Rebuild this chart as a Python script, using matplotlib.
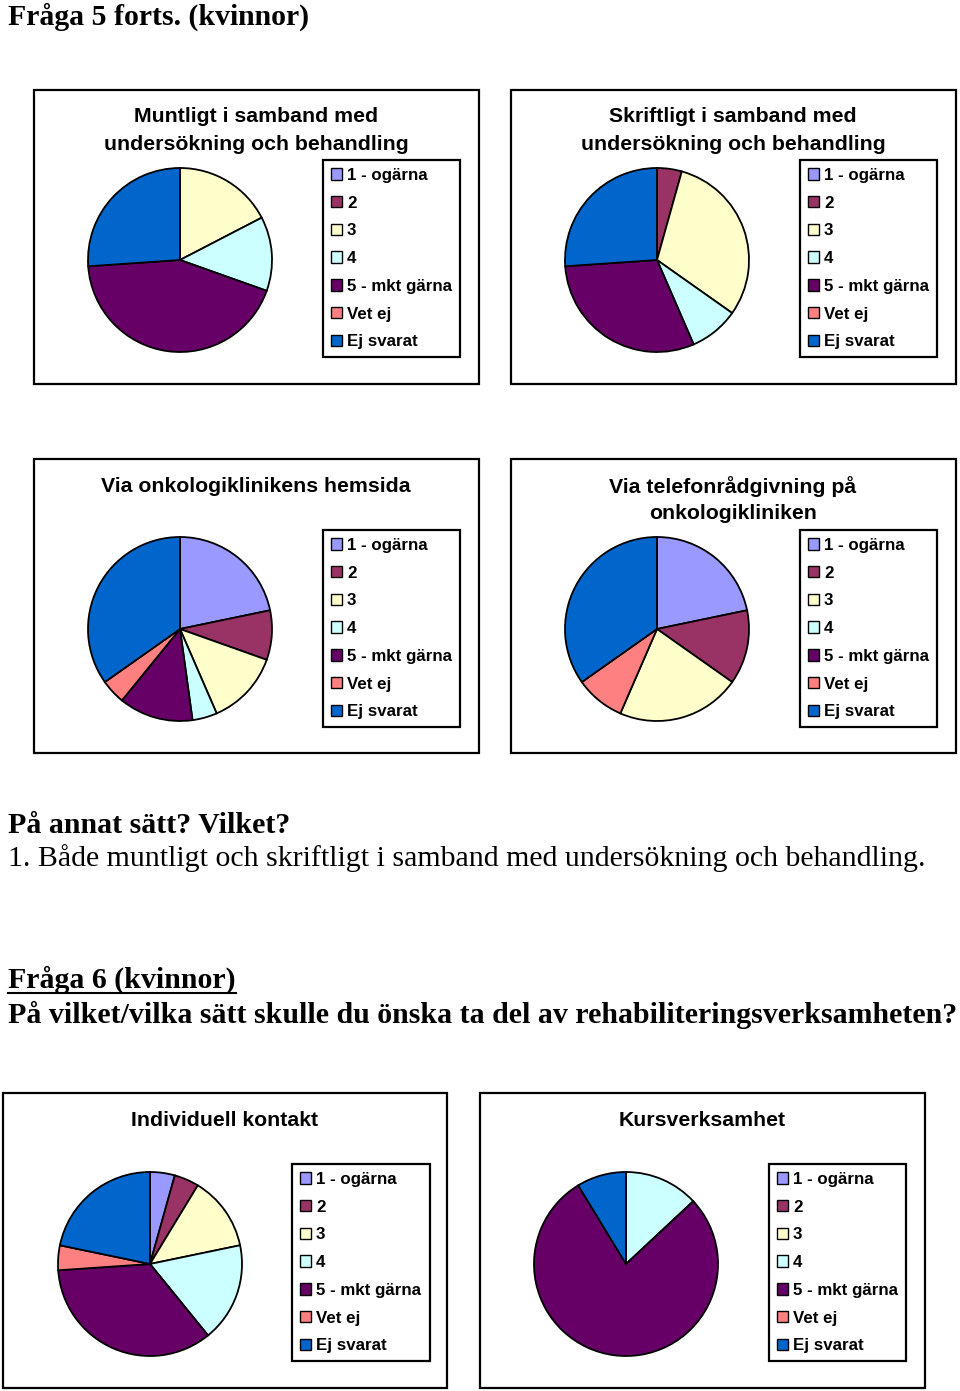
import matplotlib
matplotlib.use("Agg")
import matplotlib.pyplot as plt
from matplotlib.patches import Rectangle, Patch
from matplotlib.lines import Line2D

W, H = 960, 1391

categories = ["1 - ogärna", "2", "3", "4", "5 - mkt gärna", "Vet ej", "Ej svarat"]
colors = ["#9999FF", "#993366", "#FFFFCC", "#CCFFFF", "#660066", "#FF8080", "#0066CC"]

# antal svar per kategori (23 kvinnor)
muntligt = [0, 0, 4, 3, 10, 0, 6]
skriftligt = [0, 1, 7, 2, 7, 0, 6]
hemsida = [5, 2, 3, 1, 3, 1, 8]
telefon = [5, 3, 5, 0, 0, 2, 8]
individuell = [1, 1, 3, 4, 8, 1, 5]
kurs = [0, 0, 0, 3, 18, 0, 2]

serif = "Liberation Serif"
sans = "Liberation Sans"

fig = plt.figure(figsize=(W / 100, H / 100), dpi=100)


def fx(x):
    return x / W


def fy(y):
    return 1 - y / H


# title lines, data, frame (x0, y0, x1, y1), pie centre, title centre x, title y's, legend box
panels = [
    (["Muntligt i samband med", "undersökning och behandling"], muntligt,
     (34, 90, 479, 384), (180, 260), 256, [117, 145], (323, 160, 137)),
    (["Skriftligt i samband med", "undersökning och behandling"], skriftligt,
     (511, 90, 956, 384), (657, 260), 733, [117, 145], (800, 160, 137)),
    (["Via onkologiklinikens hemsida"], hemsida,
     (34, 459, 479, 753), (180, 629), 256, [487], (323, 530, 137)),
    (["Via telefonrådgivning på", "onkologikliniken"], telefon,
     (511, 459, 956, 753), (657, 629), 733, [487, 514], (800, 530, 137)),
    (["Individuell kontakt"], individuell,
     (3, 1093, 447, 1388), (150, 1264), 225, [1120], (292, 1164, 138)),
    (["Kursverksamhet"], kurs,
     (480, 1093, 925, 1388), (626, 1264), 702, [1120], (769, 1164, 137)),
]

r = 92
handles = [Patch(facecolor=c, edgecolor="black", linewidth=1.0) for c in colors]

for title, vals, frame, centre, tx, tys, leg in panels:
    x0, y0, x1, y1 = frame
    fig.add_artist(Rectangle((fx(x0), fy(y1)), (x1 - x0) / W, (y1 - y0) / H,
                             transform=fig.transFigure, fill=False,
                             edgecolor="black", linewidth=1.6))
    for line, ty in zip(title, tys):
        fig.text(fx(tx), fy(ty), line, ha="center", va="center",
                 fontsize=15.3, fontweight="bold", family=sans)

    cx, cy = centre
    ax = fig.add_axes([fx(cx - r), fy(cy + r), 2 * r / W, 2 * r / H])
    v = [a for a in vals if a > 0]
    c = [col for a, col in zip(vals, colors) if a > 0]
    ax.pie(v, colors=c, startangle=90, counterclock=False, radius=1,
           wedgeprops=dict(edgecolor="black", linewidth=1.3))
    ax.set_xlim(-1, 1)
    ax.set_ylim(-1, 1)
    ax.axis("off")

    lx, ly, lw = leg
    lg = fig.legend(handles, categories, loc="upper left",
                    bbox_to_anchor=(fx(lx), fy(ly + 193), lw / W, 193 / H),
                    mode="expand", borderaxespad=0, frameon=True, fancybox=False,
                    edgecolor="black", framealpha=1, borderpad=0.47,
                    labelspacing=0.75, handlelength=0.65, handleheight=0.65,
                    handletextpad=0.3, prop=dict(family=sans, weight="bold", size=12.2))
    lg.get_frame().set_linewidth(1.6)

fig.text(fx(8), fy(25), "Fråga 5 forts. (kvinnor)", fontsize=21.4, fontweight="bold",
         family=serif, va="baseline")
fig.text(fx(8), fy(833), "På annat sätt? Vilket?", fontsize=21.5, fontweight="bold",
         family=serif, va="baseline")
fig.text(fx(8), fy(866), "1. Både muntligt och skriftligt i samband med undersökning och behandling.",
         fontsize=21.5, family=serif, va="baseline")
q6 = fig.text(fx(8), fy(988), "Fråga 6 (kvinnor)", fontsize=21.5, fontweight="bold",
              family=serif, va="baseline")
fig.text(fx(8), fy(1023), "På vilket/vilka sätt skulle du önska ta del av rehabiliteringsverksamheten?",
         fontsize=21.5, fontweight="bold", family=serif, va="baseline")

fig.canvas.draw()
bb = q6.get_window_extent()
fig.add_artist(Line2D([bb.x0 / W, bb.x1 / W], [fy(993), fy(993)],
                      transform=fig.transFigure, color="black", linewidth=1.5))

fig.savefig("out.png", dpi=100)
